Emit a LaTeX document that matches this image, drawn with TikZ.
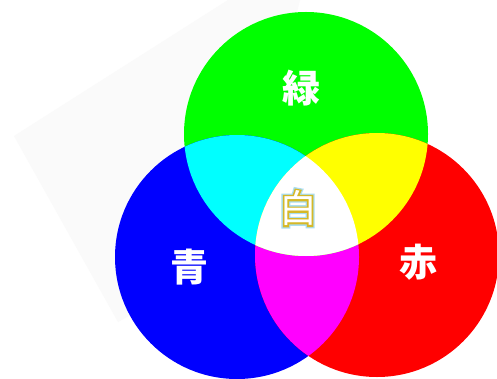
\documentclass[tikz,border=0pt]{standalone}
\usepackage{fontspec}
\newfontfamily\cjk{Noto Sans CJK JP}
\newfontfamily\cjkglow{Noto Sans CJK JP}[FakeBold=16]
\newfontfamily\cjkline{Noto Sans CJK JP}[FakeBold=9]
\definecolor{pureG}{RGB}{0,255,0}
\definecolor{pureB}{RGB}{0,0,255}
\definecolor{pureR}{RGB}{255,0,0}
\definecolor{pureC}{RGB}{0,255,255}
\definecolor{pureY}{RGB}{255,255,0}
\definecolor{pureM}{RGB}{255,0,255}
\definecolor{faintgray}{RGB}{250,250,250}
\definecolor{goldline}{RGB}{214,184,40}
\definecolor{glowblue}{RGB}{170,222,242}
\tikzset{
  circ/.style={circle, minimum size=244pt, inner sep=0pt, draw=none},
  lbl/.style={text=white, font=\cjk\bfseries\fontsize{38}{38}\selectfont, inner sep=0pt},
  wlbl/.style={inner sep=0pt}
}
\begin{document}
\begin{tikzpicture}[x=1pt,y=-1pt]
\useasboundingbox (0,0) rectangle (497,379);
\clip (0,0) rectangle (497,379);
\fill[white] (0,0) rectangle (497,379);
\fill[faintgray] (14,136) -- (228,0) -- (300,0) -- (237,257) -- (118,322) -- cycle;
\node[circ, fill=pureG] (G) at (306,134) {};
\node[circ, fill=pureB] (B) at (237,257) {};
\node[circ, fill=pureR] (Rd) at (377,255) {};
\begin{scope}
  \clip (B.center) circle[radius=122pt];
  \fill[pureM] (Rd.center) circle[radius=122pt];
\end{scope}
\begin{scope}
  \clip (G.center) circle[radius=122pt];
  \fill[pureC] (B.center) circle[radius=122pt];
  \fill[pureY] (Rd.center) circle[radius=122pt];
  \clip (B.center) circle[radius=122pt];
  \fill[white] (Rd.center) circle[radius=122pt];
\end{scope}
\node[lbl] (lg) at (301,88) {緑};
\node[lbl] (lb) at (189,267) {青};
\node[lbl] (lr) at (418,262) {赤};
\node[wlbl, text=glowblue, font=\cjkglow\fontsize{38}{38}\selectfont] (wg) at (298,208) {白};
\node[wlbl, text=goldline, font=\cjkline\fontsize{38}{38}\selectfont] (wo) at (298,208) {白};
\node[wlbl, text=white, font=\cjk\fontsize{38}{38}\selectfont] (wc) at (298,208) {白};
\end{tikzpicture}
\end{document}
